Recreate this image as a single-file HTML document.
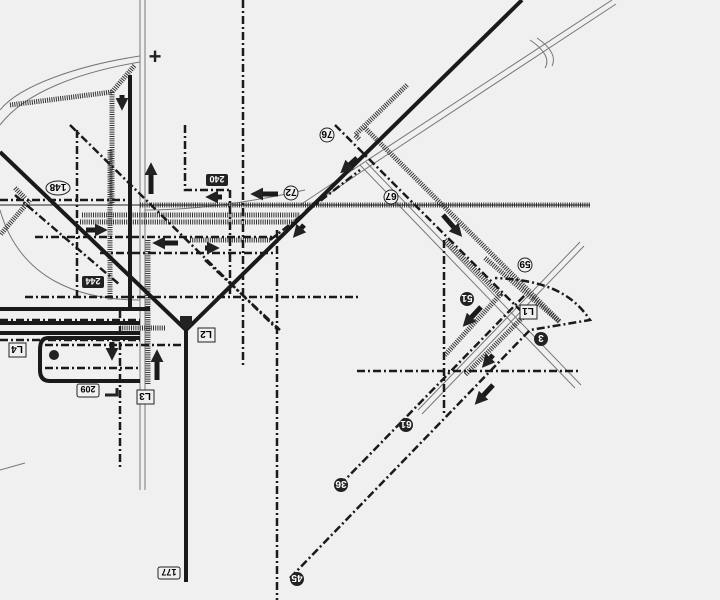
<!DOCTYPE html>
<html><head><style>
html,body{margin:0;padding:0;background:#f0f0f0;}
svg{display:block}
text{font-family:"Liberation Sans",sans-serif;font-weight:bold;}
</style></head><body>
<svg width="720" height="600" viewBox="0 0 720 600" xmlns="http://www.w3.org/2000/svg">
<defs>
<marker id="ah" viewBox="0 0 10 10" refX="4" refY="5" markerWidth="2.6" markerHeight="2.6" orient="auto"><path d="M0,0 L10,5 L0,10 z" fill="#222"/></marker>
</defs>
<rect width="720" height="600" fill="#f0f0f0"/>
<g fill="none" stroke="#777" stroke-width="1">
 <path d="M140,0 V490 M145,0 V490"/>
 <path d="M140,56 C80,65 20,85 0,110 M140,62 C80,72 25,92 0,125"/>
 <path d="M612,0 L360,165 L300,205 M616,4 L364,170 L305,210"/>
 <path d="M360,165 L575,388 M366,162 L581,385"/>
 <path d="M580,242 L418,410 M584,246 L422,414"/>
 <path d="M0,210 C20,280 80,300 140,300" />
 <path d="M0,470 L25,463"/>
 <path d="M145,210 C200,210 260,200 305,190"/>
 <path d="M530,40 C545,50 550,60 545,68 M537,38 C552,48 556,58 552,66"/>
</g>
<g fill="none" stroke="#333" stroke-width="5" stroke-dasharray="1 1.2">
 <path d="M140,205 H590"/>
 <path d="M10,105 L112,92 L135,65"/>
 <path d="M112,92 V205"/>
 <path d="M82,215 H300 M80,222 H295"/>
 <path d="M190,240 H270"/>
 <path d="M148,240 V385"/>
 <path d="M110,150 V300"/>
 <path d="M15,188 L25,198 M30,200 L0,235"/>
 <path d="M407,85 L355,135 L360,140"/>
 <path d="M365,128 L560,322"/>
 <path d="M445,240 L500,295 L445,355"/>
 <path d="M485,258 L560,322"/>
 <path d="M530,310 L465,375"/>
 <path d="M120,328 H165"/>
</g>
<g fill="none" stroke="#222" stroke-width="1"><path d="M0,205 H590"/></g>
<g fill="none" stroke="#1a1a1a" stroke-width="2.5" stroke-dasharray="8 3 2 3">
 <path d="M243,0 V365"/>
 <path d="M277,230 V600"/>
 <path d="M120,310 V470"/>
 <path d="M77,130 V300"/>
 <path d="M185,125 V190 H230 M230,190 V295"/>
 <path d="M444,240 V415"/>
 <path d="M0,200 H125"/>
 <path d="M35,237 H275"/>
 <path d="M100,253 H275"/>
 <path d="M25,297 H360"/>
 <path d="M357,371 H580"/>
 <path d="M45,345 H185 M45,368 H140"/>
 <path d="M70,125 L278,330"/>
 <path d="M290,578 L530,330 L590,320 C570,290 540,280 495,278"/>
 <path d="M340,485 L525,295"/>
 <path d="M335,125 L525,315"/>
 <path d="M270,240 L360,170"/>
 <path d="M205,260 L280,330"/>
 <path d="M0,320 H140 M0,340 H140"/>
 <path d="M15,195 L120,285"/>
</g>
<g fill="none" stroke="#1a1a1a" stroke-width="4">
 <path d="M522,0 L186,330 L0,152 M186,330 V582"/>
 <path d="M130,75 V308 M0,309 H150"/>
 <path d="M0,323 H140 M0,333 H140"/>
 <path d="M140,338 H48 Q40,338 40,350 V370 Q40,381 50,381 H140"/>
</g>
<g stroke="#1a1a1a" stroke-width="5" fill="none" marker-end="url(#ah)">
 <path d="M278,194 H258"/>
 <path d="M151,194 V170"/>
 <path d="M178,243 H160"/>
 <path d="M86,230 H100"/>
 <path d="M157,380 V357"/>
 <path d="M112,342 V353"/>
 <path d="M122,95 V103"/>
 <path d="M357,158 L346,168"/>
 <path d="M443,215 L457,231"/>
 <path d="M481,307 L468,321"/>
 <path d="M493,355 L487,362"/>
 <path d="M493,385 L480,399"/>
 <path d="M222,197 H213"/>
 <path d="M205,248 H212"/>
 <path d="M304,225 L298,232"/>
</g>
<path d="M117,388 V395 H105" stroke="#222" stroke-width="3" fill="none"/>
<text x="155" y="64" font-size="22" text-anchor="middle" fill="#222">+</text>
<circle cx="54" cy="355" r="5" fill="#222"/>
<path d="M180,316 H192 V325 L186,330 L180,325 z" fill="#222"/>
<g font-size="10" text-anchor="middle">
 <ellipse cx="58" cy="188" rx="12" ry="7" fill="#f0f0f0" stroke="#222"/><text x="58" y="192" transform="rotate(180 58 188)">148</text>
 <circle cx="291" cy="193" r="7" fill="#f0f0f0" stroke="#222"/><text x="291" y="197" transform="rotate(180 291 193)">72</text>
 <circle cx="327" cy="135" r="7" fill="#f0f0f0" stroke="#222"/><text x="327" y="139" transform="rotate(180 327 135)">76</text>
 <circle cx="391" cy="197" r="7" fill="#f0f0f0" stroke="#222"/><text x="391" y="201" transform="rotate(180 391 197)">67</text>
 <circle cx="525" cy="265" r="7" fill="#f0f0f0" stroke="#222"/><text x="525" y="269" transform="rotate(180 525 265)">59</text>
 <circle cx="467" cy="299" r="7" fill="#222"/><text x="467" y="303" fill="#fff" transform="rotate(180 467 299)">51</text>
 <circle cx="541" cy="339" r="7" fill="#222"/><text x="541" y="343" fill="#fff" transform="rotate(180 541 339)">3</text>
 <circle cx="406" cy="425" r="7" fill="#222"/><text x="406" y="429" fill="#fff" transform="rotate(180 406 425)">61</text>
 <circle cx="341" cy="485" r="7" fill="#222"/><text x="341" y="489" fill="#fff" transform="rotate(180 341 485)">36</text>
 <circle cx="297" cy="579" r="7" fill="#222"/><text x="297" y="583" fill="#fff" transform="rotate(180 297 579)">45</text>
 <rect x="206" y="174" width="22" height="12" rx="2" fill="#222"/><text x="217" y="184" fill="#fff" font-size="9" transform="rotate(180 217 180)">240</text>
 <rect x="82" y="276" width="22" height="12" rx="2" fill="#222"/><text x="93" y="286" fill="#fff" font-size="9" transform="rotate(180 93 282)">244</text>
 <rect x="77" y="384" width="22" height="13" rx="2" fill="#f0f0f0" stroke="#222"/><text x="88" y="394" font-size="9" transform="rotate(180 88 390)">209</text>
 <rect x="158" y="567" width="22" height="12" rx="2" fill="#f0f0f0" stroke="#222"/><text x="169" y="577" font-size="9" transform="rotate(180 169 573)">177</text>
 <rect x="520" y="305" width="17" height="14" fill="#f0f0f0" stroke="#222"/><text x="528" y="316" transform="rotate(180 528 312)">L1</text>
 <rect x="198" y="328" width="17" height="14" fill="#f0f0f0" stroke="#222"/><text x="206" y="339" transform="rotate(180 206 335)">L2</text>
 <rect x="137" y="390" width="17" height="14" fill="#f0f0f0" stroke="#222"/><text x="145" y="401" transform="rotate(180 145 397)">L3</text>
 <rect x="9" y="343" width="17" height="14" fill="#f0f0f0" stroke="#222"/><text x="17" y="354" transform="rotate(180 17 350)">L4</text>
</g>
</svg>
</body></html>
